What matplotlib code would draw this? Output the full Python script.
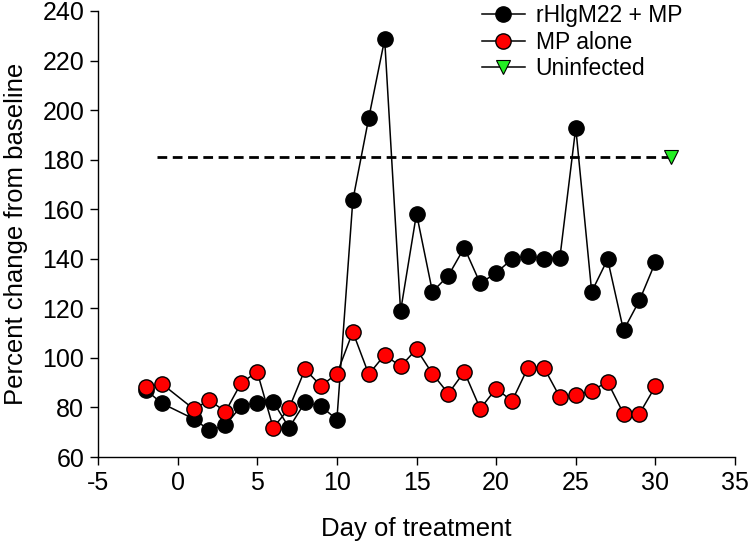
import matplotlib
matplotlib.use("Agg")
import matplotlib.pyplot as plt

plt.rcParams["font.family"] = ["Liberation Sans", "DejaVu Sans"]
plt.rcParams["axes.unicode_minus"] = False

# ── Datos ───────────────────────────────────────────────────
dias = [-2, -1, 1, 2, 3, 4, 5, 6, 7, 8, 9, 10, 11, 12, 13, 14, 15, 16, 17,
        18, 19, 20, 21, 22, 23, 24, 25, 26, 27, 28, 29, 30]

rhigm22_mp = [87.1, 81.7, 75.4, 70.8, 72.8, 80.7, 81.8, 82.3, 71.8, 82.1, 80.5,
              75.1, 163.6, 196.8, 228.6, 118.9, 158.2, 126.7, 133.2, 144.5,
              130.1, 134.3, 139.9, 141.3, 139.9, 140.3, 192.9, 126.7, 139.8,
              111.1, 123.2, 138.6]

mp_alone = [88.1, 89.6, 79.4, 82.9, 78.3, 90.0, 94.3, 71.8, 79.7, 95.4, 88.7,
            93.6, 110.5, 93.4, 101.2, 96.6, 103.5, 93.6, 85.6, 94.4, 79.5,
            87.6, 82.6, 96.1, 96.1, 84.2, 84.9, 86.8, 90.3, 77.5, 77.5, 88.5]

uninf_x = [-1.3, 31]
uninf_y = [181, 181]

# ── Gráfico ─────────────────────────────────────────────────
fig = plt.figure(figsize=(7.5, 5.47), dpi=100)
ax = fig.add_axes([0.1307, 0.1645, 0.8493, 0.8154])

ax.plot(dias, rhigm22_mp, color="black", lw=1.1, marker="o", markersize=11,
        markerfacecolor="black", markeredgecolor="black", label="rHlgM22 + MP",
        zorder=3)
ax.plot(dias, mp_alone, color="black", lw=1.1, marker="o", markersize=11,
        markerfacecolor="#ff0000", markeredgecolor="black", markeredgewidth=1.0,
        label="MP alone", zorder=4)
ax.plot(uninf_x, uninf_y, color="black", lw=2, linestyle=(0, (3.5, 2)),
        zorder=2)
ax.plot([uninf_x[-1]], [uninf_y[-1]], linestyle="none", marker="v",
        markersize=10, markerfacecolor="#22ee22", markeredgecolor="black",
        markeredgewidth=0.8, zorder=5)
# entrada de leyenda para Uninfected
ax.plot([], [], color="black", lw=1.1, marker="v", markersize=10,
        markerfacecolor="#22ee22", markeredgecolor="black",
        markeredgewidth=0.8, label="Uninfected")

ax.set_xlim(-5, 35)
ax.set_ylim(60, 240)
ax.set_xticks(range(-5, 36, 5))
ax.set_yticks(range(60, 241, 20))

ax.spines[["top", "right"]].set_visible(False)
ax.spines[["left", "bottom"]].set_linewidth(1.0)
ax.tick_params(direction="out", length=6, width=1.0, labelsize=18, pad=4)

ax.set_xlabel("Day of treatment", fontsize=18.5, labelpad=16)
ax.set_ylabel("Percent change from baseline", fontsize=18.5, labelpad=10)

ax.legend(loc="upper left", bbox_to_anchor=(0.63, 1.01),
          bbox_transform=fig.transFigure, frameon=False, fontsize=16.5,
          handlelength=1.9, handletextpad=0.45, labelspacing=0.17,
          borderaxespad=0)

plt.savefig("out.png", dpi=100)
